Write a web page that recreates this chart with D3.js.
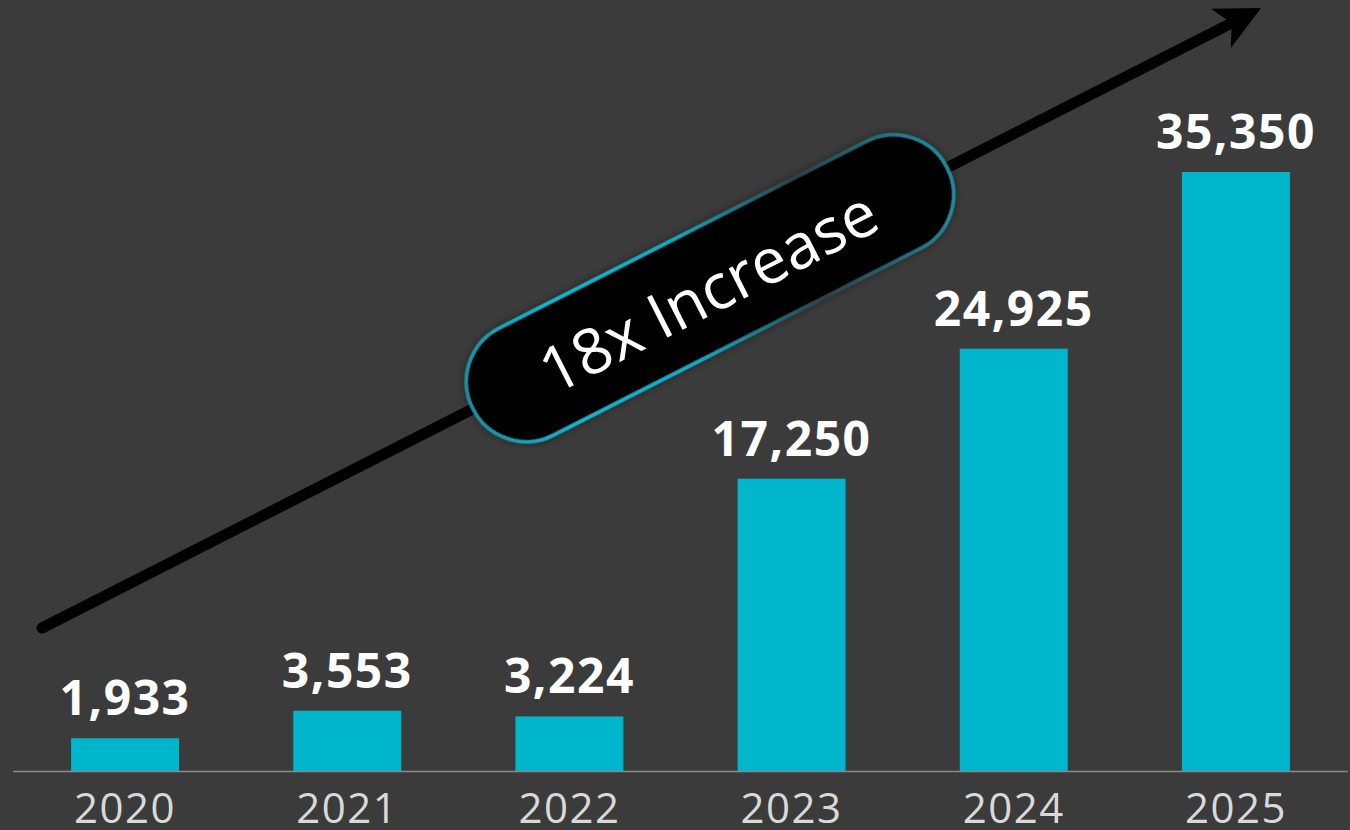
<!DOCTYPE html>
<html>
<head>
<meta charset="utf-8">
<script src="https://cdn.jsdelivr.net/npm/d3@7"></script>
<style>
  html, body { margin: 0; padding: 0; background: #3b3b3b; }
  svg { display: block; }
</style>
</head>
<body>
<svg id="chart" width="1350" height="830"></svg>
<script>
// Yearly totals
const years = ["2020", "2021", "2022", "2023", "2024", "2025"];
const values = [1933, 3553, 3224, 17250, 24925, 35350];
const calloutText = "18x Increase";

const W = 1350, H = 830;
const baseY = 771;
const svg = d3.select("#chart");

svg.append("rect").attr("width", W).attr("height", H).attr("fill", "#3b3b3b");

const x = d3.scaleBand()
  .domain(years)
  .range([14, 1347])
  .paddingInner(0.514)
  .paddingOuter(0.257);

const y = d3.scaleLinear()
  .domain([0, 35350])
  .range([baseY, 172]);

const defs = svg.append("defs");

// Bars
svg.append("g").selectAll("rect")
  .data(values)
  .join("rect")
  .attr("x", (d, i) => x(years[i]))
  .attr("width", x.bandwidth())
  .attr("y", d => y(d))
  .attr("height", d => baseY - y(d))
  .attr("fill", "#00b6cd");

// Baseline
svg.append("line")
  .attr("x1", 13).attr("x2", 1348)
  .attr("y1", baseY + 0.5).attr("y2", baseY + 0.5)
  .attr("stroke", "#8a8a8a").attr("stroke-width", 1.5);

// Year axis
const xAxis = d3.axisBottom(x).tickSize(0).tickPadding(0);
const axisG = svg.append("g")
  .attr("transform", `translate(0,${baseY})`)
  .call(xAxis);
axisG.select(".domain").remove();
axisG.selectAll("text")
  .attr("dy", null)
  .attr("y", 52)
  .attr("fill", "#d9d9d9")
  .attr("font-family", "'Open Sans', sans-serif")
  .attr("font-size", 42)
  .attr("letter-spacing", "1.5px")
  .attr("font-weight", 400);

// Value labels
const fmt = d3.format(",");
svg.append("g").selectAll("text")
  .data(values)
  .join("text")
  .attr("x", (d, i) => x(years[i]) + x.bandwidth() / 2)
  .attr("y", d => y(d) - 23)
  .attr("text-anchor", "middle")
  .attr("fill", "#ffffff")
  .attr("font-family", "'Open Sans', sans-serif")
  .attr("font-weight", 700)
  .attr("font-size", 48)
  .attr("letter-spacing", "1.5px")
  .text(d => fmt(d));

// Trend arrow
const a0 = [42, 628], a1 = [1261, 8];
const dx = a1[0] - a0[0], dy = a1[1] - a0[1];
const len = Math.hypot(dx, dy);
const u = [dx / len, dy / len], n = [-u[1], u[0]];
const headLen = 45, headHalf = 22, notch = 33;
const pt = (along, side) => [a1[0] + u[0] * along + n[0] * side, a1[1] + u[1] * along + n[1] * side];
const arrow = svg.append("g");
const shaftEnd = pt(-notch + 2, 0);
arrow.append("line")
  .attr("x1", a0[0]).attr("y1", a0[1])
  .attr("x2", shaftEnd[0]).attr("y2", shaftEnd[1])
  .attr("stroke", "#000").attr("stroke-width", 11)
  .attr("stroke-linecap", "round");
arrow.append("path")
  .attr("d", d3.line()([pt(0, 0), pt(-headLen, -headHalf), pt(-notch, 0), pt(-headLen, headHalf)]) + "Z")
  .attr("fill", "#000");

// Callout pill
const angle = Math.atan2(dy, dx) * 180 / Math.PI;
const cx = 710;
const cy = a0[1] + (cx - a0[0]) * dy / dx;
const pillL = 532, pillH = 120;

const grad = defs.append("linearGradient")
  .attr("id", "pillStroke")
  .attr("gradientUnits", "userSpaceOnUse")
  .attr("x1", -pillL / 2).attr("y1", -pillH / 2)
  .attr("x2", pillL / 2).attr("y2", pillH / 2);
[["0%", "#22889a"], ["20%", "#0cbcd6"], ["45%", "#10b0c8"], ["70%", "#2d4248"], ["100%", "#1d93a6"]]
  .forEach(([o, c]) => grad.append("stop").attr("offset", o).attr("stop-color", c));

const shadow = defs.append("filter").attr("id", "pillShadow")
  .attr("x", "-20%").attr("y", "-40%").attr("width", "140%").attr("height", "180%");
shadow.append("feGaussianBlur").attr("in", "SourceAlpha").attr("stdDeviation", 4).attr("result", "b");
shadow.append("feComponentTransfer").attr("in", "b").attr("result", "s")
  .append("feFuncA").attr("type", "linear").attr("slope", 0.45);
const merge = shadow.append("feMerge");
merge.append("feMergeNode").attr("in", "s");
merge.append("feMergeNode").attr("in", "SourceGraphic");

const pill = svg.append("g")
  .attr("transform", `translate(${cx},${cy}) rotate(${angle})`);
pill.append("rect")
  .attr("x", -pillL / 2).attr("y", -pillH / 2)
  .attr("width", pillL).attr("height", pillH)
  .attr("rx", pillH / 2).attr("ry", pillH / 2)
  .attr("fill", "#000")
  .attr("stroke", "url(#pillStroke)")
  .attr("stroke-width", 3.5)
  .attr("filter", "url(#pillShadow)");
pill.append("text")
  .attr("x", -3).attr("y", 2)
  .attr("dy", "0.36em")
  .attr("text-anchor", "middle")
  .attr("fill", "#ffffff")
  .attr("font-family", "'Open Sans', sans-serif")
  .attr("font-size", 63)
  .attr("font-weight", 400)
  .text(calloutText);
</script>
</body>
</html>
